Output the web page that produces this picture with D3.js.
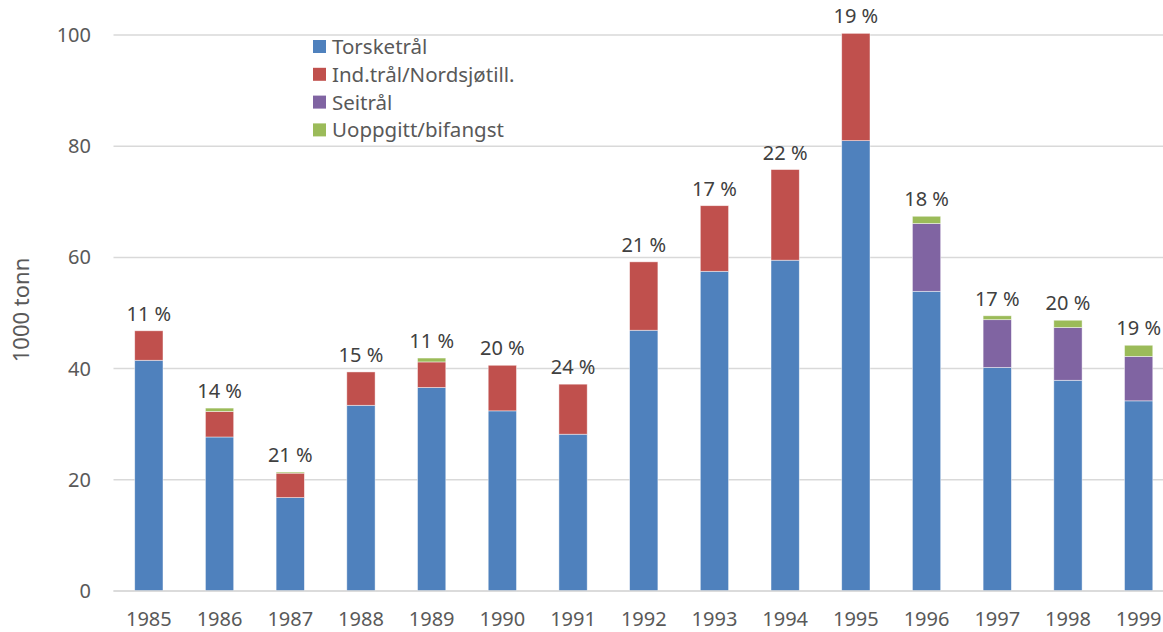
<!DOCTYPE html>
<html>
<head>
<meta charset="utf-8">
<script src="https://cdn.jsdelivr.net/npm/d3@7"></script>
<style>
    body { margin: 0; background: #fff; }
    svg { font-family: "Noto Sans", "Open Sans", sans-serif; }
</style>
</head>
<body>
<div id="chart"></div>
<script>
// years and stacked series (1000 tonn)
const years = ["1985", "1986", "1987", "1988", "1989", "1990", "1991", "1992",
    "1993", "1994", "1995", "1996", "1997", "1998", "1999"];
const torsketral = [41.5, 27.7, 16.8, 33.4, 36.6, 32.4, 28.2, 46.9, 57.5, 59.5, 81.0, 53.9, 40.2, 37.9, 34.2];
const indtral = [5.3, 4.6, 4.4, 6.0, 4.6, 8.2, 9.0, 12.3, 11.8, 16.3, 19.3, 0, 0, 0, 0];
const seitral = [0, 0, 0, 0, 0, 0, 0, 0, 0, 0, 0, 12.2, 8.6, 9.5, 8.0];
const uoppgitt = [0, 0.6, 0.2, 0, 0.7, 0, 0, 0, 0, 0, 0, 1.3, 0.7, 1.3, 2.0];
const percentLabels = ["11 %", "14 %", "21 %", "15 %", "11 %", "20 %", "24 %", "21 %",
    "17 %", "22 %", "19 %", "18 %", "17 %", "20 %", "19 %"];
const seriesNames = ["Torsketrål", "Ind.trål/Nordsjøtill.", "Seitrål", "Uoppgitt/bifangst"];
const seriesColors = ["#4F81BD", "#C0504D", "#8064A2", "#9BBB59"];
const yTicks = [0, 20, 40, 60, 80, 100];

const width = 1163;
const height = 632;
const margin = {left: 113.5, right: 1174, top: 35, bottom: 591};

const rows = years.map((yr, i) => ({
    year: yr,
    s0: torsketral[i],
    s1: indtral[i],
    s2: seitral[i],
    s3: uoppgitt[i],
    label: percentLabels[i]
}));
const keys = ["s0", "s1", "s2", "s3"];
const stacked = d3.stack().keys(keys)(rows);

const x = d3.scaleBand()
    .domain(years)
    .range([margin.left, margin.right])
    .paddingInner(0.6)
    .paddingOuter(0.3);

const y = d3.scaleLinear()
    .domain([0, 100])
    .range([margin.bottom, margin.top]);

const svg = d3.select("#chart").append("svg")
    .attr("width", width)
    .attr("height", height);

// gridlines
svg.append("g")
    .selectAll("line")
    .data(yTicks)
    .join("line")
    .attr("x1", margin.left)
    .attr("x2", width)
    .attr("y1", d => y(d))
    .attr("y2", d => y(d))
    .attr("stroke", "#d9d9d9")
    .attr("stroke-width", 1.5);

// y axis labels
const yAxis = d3.axisLeft(y).tickValues(yTicks).tickSize(0).tickPadding(0);
svg.append("g")
    .attr("transform", "translate(91,0)")
    .call(yAxis)
    .call(g => g.select(".domain").remove())
    .call(g => g.selectAll("text")
        .attr("font-size", 20)
        .attr("font-family", "Noto Sans")
        .attr("fill", "#595959"));

// x axis labels
const xAxis = d3.axisBottom(x).tickSize(0).tickPadding(0);
svg.append("g")
    .attr("transform", "translate(0," + (margin.bottom + 21) + ")")
    .call(xAxis)
    .call(g => g.select(".domain").remove())
    .call(g => g.selectAll("text")
        .attr("font-size", 20)
        .attr("font-family", "Noto Sans")
        .attr("fill", "#595959"));

// y axis title
svg.append("text")
    .attr("transform", "translate(29,310) rotate(-90)")
    .attr("text-anchor", "middle")
    .attr("font-size", 22)
    .attr("fill", "#595959")
    .text("1000 tonn");

// bars
svg.append("g")
    .selectAll("g")
    .data(stacked)
    .join("g")
    .attr("fill", (d, i) => seriesColors[i])
    .selectAll("rect")
    .data(d => d.filter(p => p[1] - p[0] > 0))
    .join("rect")
    .attr("x", d => x(d.data.year))
    .attr("width", x.bandwidth())
    .attr("y", d => y(d[1]))
    .attr("height", d => y(d[0]) - y(d[1]))
    .attr("stroke", "rgba(255,255,255,0.6)")
    .attr("stroke-width", 0.75);

// percentage labels above stacks
const last = stacked[stacked.length - 1];
svg.append("g")
    .selectAll("text")
    .data(last)
    .join("text")
    .attr("x", d => x(d.data.year) + x.bandwidth() / 2)
    .attr("y", d => y(d[1]) - 10)
    .attr("text-anchor", "middle")
    .attr("font-size", 20)
    .attr("fill", "#404040")
    .text(d => d.data.label);

// baseline
svg.append("line")
    .attr("x1", margin.left)
    .attr("x2", width)
    .attr("y1", margin.bottom)
    .attr("y2", margin.bottom)
    .attr("stroke", "#d9d9d9")
    .attr("stroke-width", 1.5);

// legend
const legend = svg.append("g")
    .attr("transform", "translate(313,40)");
const item = legend.selectAll("g")
    .data(seriesNames)
    .join("g")
    .attr("transform", (d, i) => "translate(0," + i * 27.8 + ")");
item.append("rect")
    .attr("width", 13)
    .attr("height", 13)
    .attr("fill", (d, i) => seriesColors[i]);
item.append("text")
    .attr("x", 19)
    .attr("y", 14)
    .attr("font-size", 20.5)
    .attr("fill", "#595959")
    .text(d => d);
</script>
</body>
</html>
